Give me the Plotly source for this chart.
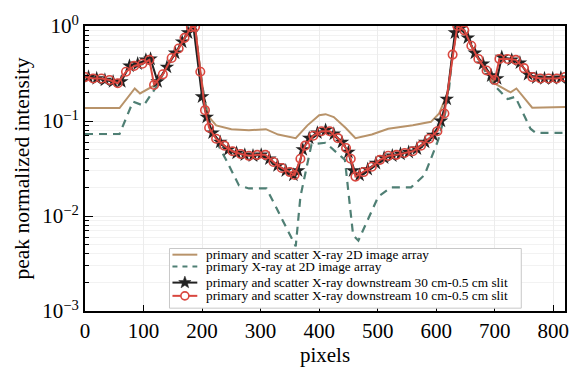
import math
import plotly.graph_objects as go

# ---- data ----
tan_x = [0, 59, 85, 94, 120, 133, 148, 160, 170, 181, 188, 197, 204, 212, 224, 250, 280, 309, 330, 360,
         380, 400, 411, 425, 445, 462, 490, 518, 560, 591, 605, 620, 628, 636, 648, 660, 672, 686, 699,
         727, 737, 764, 820]
tan_y = [0.137, 0.137, 0.22, 0.195, 0.24, 0.31, 0.46, 0.58, 0.75, 0.97, 0.98, 0.33, 0.17, 0.11, 0.09,
         0.082, 0.08, 0.082, 0.072, 0.066, 0.09, 0.115, 0.118, 0.11, 0.085, 0.066, 0.072, 0.083, 0.09,
         0.098, 0.12, 0.2, 0.5, 1.0, 0.9, 0.62, 0.45, 0.34, 0.25, 0.2, 0.22, 0.138, 0.14]

prim_x = [0, 59, 82, 100, 120, 133, 148, 160, 170, 181, 188, 197, 204, 212, 241, 263, 280, 310, 326, 353,
          360, 368, 387, 411, 444, 458, 467, 501, 523, 557, 580, 603, 614, 620, 628, 636, 648, 660, 672,
          693, 722, 735, 761, 770, 820]
prim_y = [0.073, 0.073, 0.16, 0.145, 0.22, 0.31, 0.46, 0.58, 0.75, 0.97, 0.98, 0.33, 0.17, 0.085, 0.039,
          0.021, 0.0195, 0.0195, 0.0125, 0.006, 0.0048, 0.016, 0.057, 0.059, 0.039, 0.0063, 0.0055, 0.016,
          0.02, 0.02, 0.027, 0.062, 0.11, 0.17, 0.5, 1.0, 0.9, 0.62, 0.45, 0.26, 0.17, 0.18, 0.083, 0.075,
          0.075]

s30_x = [6, 20, 34, 48, 62, 76, 90, 104, 112, 124, 140, 154, 166, 176, 185, 200, 208, 218, 231, 245, 259,
         273, 287, 301, 315, 329, 343, 356, 364, 372, 383, 397, 411, 425, 439, 450, 458, 469, 483, 497,
         511, 525, 539, 553, 567, 581, 595, 608, 618, 632, 642, 654, 666, 680, 694, 704, 712, 729, 743,
         757, 771, 785, 799, 813]
s30_y = [0.29, 0.28, 0.27, 0.26, 0.26, 0.38, 0.40, 0.44, 0.45, 0.26, 0.37, 0.52, 0.68, 0.85, 1.0, 0.18,
         0.11, 0.075, 0.06, 0.05, 0.046, 0.044, 0.043, 0.044, 0.040, 0.034, 0.030, 0.027, 0.03, 0.05,
         0.066, 0.075, 0.08, 0.073, 0.06, 0.047, 0.03, 0.027, 0.031, 0.036, 0.041, 0.043, 0.045, 0.047,
         0.051, 0.06, 0.071, 0.1, 0.17, 0.85, 0.95, 0.75, 0.52, 0.40, 0.30, 0.28, 0.47, 0.44, 0.41, 0.31,
         0.285, 0.28, 0.28, 0.285]

s10_x = [0, 14, 28, 42, 56, 70, 84, 98, 110, 118, 133, 148, 160, 170, 181, 188, 197, 205, 212, 224, 238,
         252, 266, 280, 294, 308, 322, 336, 350, 358, 368, 376, 390, 404, 418, 432, 446, 454, 462, 476,
         490, 504, 518, 532, 546, 560, 574, 588, 602, 614, 628, 636, 648, 660, 672, 686, 700, 708, 722,
         736, 750, 764, 778, 792, 806, 820]
s10_y = [0.29, 0.28, 0.28, 0.27, 0.25, 0.33, 0.38, 0.40, 0.44, 0.24, 0.31, 0.46, 0.58, 0.75, 0.97, 0.98,
         0.33, 0.13, 0.085, 0.065, 0.055, 0.048, 0.045, 0.043, 0.044, 0.044, 0.037, 0.032, 0.029, 0.027,
         0.04, 0.055, 0.07, 0.078, 0.078, 0.066, 0.052, 0.04, 0.026, 0.029, 0.033, 0.039, 0.043, 0.044,
         0.046, 0.048, 0.055, 0.065, 0.078, 0.12, 0.5, 1.0, 0.9, 0.62, 0.45, 0.34, 0.27, 0.45, 0.45, 0.44,
         0.36, 0.29, 0.28, 0.28, 0.28, 0.29]

names = ["primary and scatter X-ray 2D image array",
         "primary X-ray at 2D image array",
         "primary and scatter X-ray downstream 30 cm-0.5 cm slit",
         "primary and scatter X-ray downstream 10 cm-0.5 cm slit"]

y_major = [1e-3, 1e-2, 1e-1, 1]
y_major_text = ["10<sup>−3</sup>", "10<sup>−2</sup>", "10<sup>−1</sup>", "10<sup>0</sup>"]
y_minor = [m * 10.0 ** e for e in (-3, -2, -1) for m in range(2, 10)]
x_ticks = [0, 100, 200, 300, 400, 500, 600, 700, 800]

# ---- styles ----
C_TAN = "#b8936a"
C_PRIM = "#4f7f74"
C_S30 = "#222222"
C_S10 = "#d9473f"
FONT = "Liberation Serif, Times New Roman, serif"

# plot-area geometry (pixels)
W, H = 581, 372
ML, MR, MT, MB = 85, 13, 12, 59
PW, PH = W - ML - MR, H - MT - MB


def px2paper(px, py):
    return (px - ML) / PW, (H - MB - py) / PH


fig = go.Figure()
fig.add_trace(go.Scatter(x=tan_x, y=tan_y, mode="lines", name=names[0],
                         line=dict(color=C_TAN, width=2)))
fig.add_trace(go.Scatter(x=prim_x, y=prim_y, mode="lines", name=names[1],
                         line=dict(color=C_PRIM, width=2.2, dash="8px,6px")))
fig.add_trace(go.Scatter(x=s30_x, y=s30_y, mode="lines+markers", name=names[2],
                         line=dict(color=C_S30, width=2),
                         marker=dict(symbol="star", size=11, color=C_S30)))
fig.add_trace(go.Scatter(x=s10_x, y=s10_y, mode="lines+markers", name=names[3],
                         line=dict(color=C_S10, width=2),
                         marker=dict(symbol="circle-open", size=8.5, color=C_S10,
                                     line=dict(width=1.6, color=C_S10))))

# ---- custom compact legend (box, sample lines, markers, texts) ----
shapes = []
annotations = []
bx0, by1 = px2paper(170, 247)
bx1, by0 = px2paper(524, 310)
shapes.append(dict(type="rect", xref="paper", yref="paper", x0=bx0, x1=bx1, y0=by0, y1=by1,
                   fillcolor="white", line=dict(color="#c8c8c8", width=1), layer="above"))
rows_py = [253.5, 266, 283, 297]
styles = [(C_TAN, 2, "solid"), (C_PRIM, 2.2, "5px,5px"), (C_S30, 2, "solid"), (C_S10, 2, "solid")]
for i, (py, (col, lw, dsh)) in enumerate(zip(rows_py, styles)):
    lx0, ly = px2paper(173, py)
    lx1, _ = px2paper(198, py)
    shapes.append(dict(type="line", xref="paper", yref="paper", x0=lx0, x1=lx1, y0=ly, y1=ly,
                       line=dict(color=col, width=lw, dash=dsh), layer="above"))
    tx, _ = px2paper(205, py)
    annotations.append(dict(text=names[i], xref="paper", yref="paper", x=tx, y=ly,
                            xanchor="left", yanchor="middle", showarrow=False,
                            font=dict(family=FONT, size=13.3, color="black")))

# star marker in legend
cx, cy = px2paper(185.5, rows_py[2])
pts = []
for k in range(10):
    r = 6.5 if k % 2 == 0 else 2.7
    a = -math.pi / 2 + k * math.pi / 5
    pts.append((r * math.cos(a), -r * math.sin(a)))
star_path = "M " + " L ".join(f"{x:.2f},{y:.2f}" for x, y in pts) + " Z"
shapes.append(dict(type="path", xref="paper", yref="paper", xsizemode="pixel", ysizemode="pixel",
                   xanchor=cx, yanchor=cy, path=star_path, fillcolor=C_S30,
                   line=dict(color=C_S30, width=0.5), layer="above"))
# circle marker in legend
cx, cy = px2paper(185.5, rows_py[3])
shapes.append(dict(type="circle", xref="paper", yref="paper", xsizemode="pixel", ysizemode="pixel",
                   xanchor=cx, yanchor=cy, x0=-4, x1=4, y0=-4, y1=4, fillcolor="white",
                   line=dict(color=C_S10, width=1.6), layer="above"))

fig.update_layout(
    width=W, height=H,
    margin=dict(l=ML, r=MR, t=MT, b=MB),
    paper_bgcolor="white", plot_bgcolor="white",
    font=dict(family=FONT, color="black"),
    showlegend=False,
    shapes=shapes,
    annotations=annotations,
)
fig.update_xaxes(range=[0, 820], tickmode="array", tickvals=x_ticks,
                 ticks="inside", ticklen=6, tickwidth=1.2, tickcolor="black",
                 showline=True, linecolor="black", linewidth=2, mirror=True,
                 showgrid=True, gridcolor="#ececec", gridwidth=1, zeroline=False,
                 ticklabeloverflow="allow",
                 tickfont=dict(size=21), title=dict(text="pixels", font=dict(size=21), standoff=2))
fig.update_yaxes(type="log", range=[-3, 0], tickmode="array", tickvals=y_major,
                 ticktext=y_major_text,
                 ticks="inside", ticklen=8, tickwidth=1.2, tickcolor="black",
                 showline=True, linecolor="black", linewidth=2, mirror=True,
                 showgrid=True, gridcolor="#ececec", gridwidth=1, zeroline=False,
                 ticklabeloverflow="allow",
                 minor=dict(tickmode="array", tickvals=y_minor, ticks="inside", ticklen=4,
                            tickcolor="black", showgrid=True, gridcolor="#f2f2f2"),
                 tickfont=dict(size=21),
                 title=dict(text="peak normalized intensity", font=dict(size=21.5), standoff=7))

fig.write_html("out.html")
